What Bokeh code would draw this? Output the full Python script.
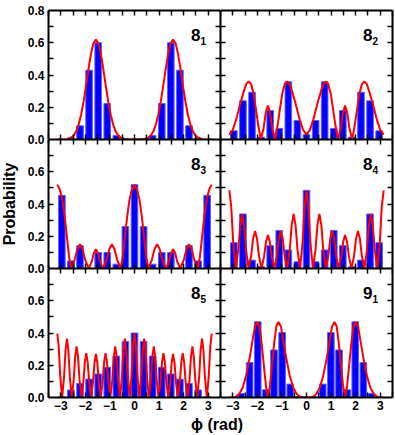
from bokeh.plotting import figure
from bokeh.models import Range1d, FixedTicker, LinearAxis, Label
from bokeh.layouts import column, row
from bokeh.embed import file_html
from bokeh.resources import INLINE

# ---------------- data ----------------
# bin centres (rad)
bins17 = [-2.957, -2.587, -2.217, -1.848, -1.478, -1.109, -0.739, -0.370, 0.0,
          0.370, 0.739, 1.109, 1.478, 1.848, 2.217, 2.587, 2.957]
bins19 = [-2.976, -2.646, -2.315, -1.984, -1.653, -1.323, -0.992, -0.661, -0.331, 0.0,
          0.331, 0.661, 0.992, 1.323, 1.653, 1.984, 2.315, 2.646, 2.976]

bar81 = [0.0, 0.005, 0.085, 0.43, 0.60, 0.223, 0.025, 0.003, 0.0, 0.003, 0.025, 0.223, 0.60, 0.43, 0.085, 0.005, 0.0]
bar82 = [0.054, 0.24, 0.293, 0.015, 0.18, 0.069, 0.358, 0.118, 0.031, 0.118, 0.358, 0.069, 0.18, 0.015, 0.293, 0.24, 0.054]
bar83 = [0.454, 0.047, 0.142, 0.003, 0.099, 0.099, 0.027, 0.26, 0.52, 0.26, 0.027, 0.099, 0.099, 0.003, 0.142, 0.047, 0.454]
bar84 = [0.16, 0.338, 0.052, 0.012, 0.142, 0.236, 0.115, 0.042, 0.485, 0.042, 0.115, 0.236, 0.142, 0.012, 0.052, 0.338, 0.16]
bar85 = [0.004, 0.047, 0.0875, 0.114, 0.146, 0.1875, 0.257, 0.348, 0.40, 0.348, 0.257, 0.1875, 0.146, 0.114, 0.0875, 0.047, 0.004]
bar91 = [0.0, 0.025, 0.217, 0.469, 0.048, 0.295, 0.403, 0.083, 0.005, 0.0, 0.005, 0.083, 0.403, 0.295, 0.048, 0.469, 0.217, 0.025, 0.0]

c81_x = [-3.142, -2.771, -2.571, -2.471, -2.371, -2.271, -2.171, -2.071, -1.971, -1.871, -1.771, -1.671, -1.571,
         -1.471, -1.371, -1.271, -1.171, -1.071, -0.971, -0.871, -0.771, -0.671, -0.571, -0.371, 0.0,
         0.371, 0.571, 0.671, 0.771, 0.871, 0.971, 1.071, 1.171, 1.271, 1.371, 1.471, 1.571,
         1.671, 1.771, 1.871, 1.971, 2.071, 2.171, 2.271, 2.371, 2.471, 2.571, 2.771, 3.142]
c81_y = [0.0, 0.002, 0.013, 0.027, 0.052, 0.094, 0.155, 0.236, 0.334, 0.438, 0.532, 0.597, 0.62,
         0.597, 0.532, 0.438, 0.334, 0.236, 0.155, 0.094, 0.052, 0.027, 0.013, 0.002, 0.0,
         0.002, 0.013, 0.027, 0.052, 0.094, 0.155, 0.236, 0.334, 0.438, 0.532, 0.597, 0.62,
         0.597, 0.532, 0.438, 0.334, 0.236, 0.155, 0.094, 0.052, 0.027, 0.013, 0.002, 0.0]

c82_x = [-3.142, -3.0, -2.85, -2.7, -2.55, -2.45, -2.356, -2.26, -2.16, -2.06, -1.96, -1.86, -1.744, -1.657,
         -1.571, -1.485, -1.398, -1.28, -1.18, -1.08, -0.98, -0.88, -0.785, -0.69, -0.59, -0.44, -0.29, -0.14, 0.0,
         0.14, 0.29, 0.44, 0.59, 0.69, 0.785, 0.88, 0.98, 1.08, 1.18, 1.28, 1.398, 1.485, 1.571, 1.657, 1.744,
         1.86, 1.96, 2.06, 2.16, 2.26, 2.356, 2.45, 2.55, 2.7, 2.85, 3.0, 3.142]
c82_y = [0.03, 0.06, 0.13, 0.22, 0.30, 0.345, 0.36, 0.345, 0.29, 0.19, 0.085, 0.0, 0.072, 0.167,
         0.21, 0.167, 0.072, 0.0, 0.085, 0.19, 0.29, 0.345, 0.36, 0.345, 0.30, 0.22, 0.13, 0.06, 0.03,
         0.06, 0.13, 0.22, 0.30, 0.345, 0.36, 0.345, 0.29, 0.19, 0.085, 0.0, 0.072, 0.167, 0.21, 0.167, 0.072,
         0.0, 0.085, 0.19, 0.29, 0.345, 0.36, 0.345, 0.30, 0.22, 0.13, 0.06, 0.03]

c83_x = [-3.142, -3.04, -2.94, -2.84, -2.74, -2.66, -2.58, -2.436, -2.328, -2.22, -2.112, -2.004, -1.86,
         -1.744, -1.657, -1.571, -1.485, -1.398, -1.28, -1.136, -1.028, -0.92, -0.812, -0.704, -0.56,
         -0.48, -0.40, -0.30, -0.20, -0.10, 0.0,
         0.10, 0.20, 0.30, 0.40, 0.48, 0.56, 0.704, 0.812, 0.92, 1.028, 1.136, 1.28, 1.398, 1.485, 1.571,
         1.657, 1.744, 1.86, 2.004, 2.112, 2.22, 2.328, 2.436, 2.58, 2.66, 2.74, 2.84, 2.94, 3.04, 3.142]
c83_y = [0.52, 0.49, 0.43, 0.32, 0.18, 0.07, 0.0, 0.052, 0.119, 0.15, 0.119, 0.052, 0.0,
         0.041, 0.095, 0.12, 0.095, 0.041, 0.0, 0.052, 0.119, 0.15, 0.119, 0.052, 0.0,
         0.07, 0.18, 0.32, 0.43, 0.49, 0.52,
         0.49, 0.43, 0.32, 0.18, 0.07, 0.0, 0.052, 0.119, 0.15, 0.119, 0.052, 0.0, 0.041, 0.095, 0.12,
         0.095, 0.041, 0.0, 0.052, 0.119, 0.15, 0.119, 0.052, 0.0, 0.07, 0.18, 0.32, 0.43, 0.49, 0.52]

c84_x = [-3.142, -3.063, -2.985, -2.880, -2.775, -2.697, -2.618, -2.539, -2.461, -2.356, -2.251, -2.173,
         -2.094, -2.015, -1.937, -1.833, -1.728, -1.650, -1.571, -1.492, -1.414, -1.309, -1.204, -1.126,
         -1.047, -0.968, -0.890, -0.785, -0.681, -0.603, -0.524, -0.445, -0.367, -0.262, -0.157, -0.079, 0.0,
         0.079, 0.157, 0.262, 0.367, 0.445, 0.524, 0.603, 0.681, 0.785, 0.890, 0.968, 1.047, 1.126, 1.204,
         1.309, 1.414, 1.492, 1.571, 1.650, 1.728, 1.833, 1.937, 2.015, 2.094, 2.173, 2.251, 2.356, 2.461,
         2.539, 2.618, 2.697, 2.775, 2.880, 2.985, 3.063, 3.142]
c84_y = [0.484, 0.384, 0.167, 0.0, 0.117, 0.269, 0.339, 0.269, 0.117, 0.0, 0.080, 0.185,
         0.233, 0.185, 0.080, 0.0, 0.072, 0.165, 0.208, 0.165, 0.072, 0.0, 0.080, 0.185,
         0.233, 0.185, 0.080, 0.0, 0.117, 0.269, 0.339, 0.269, 0.117, 0.0, 0.167, 0.384, 0.484,
         0.384, 0.167, 0.0, 0.117, 0.269, 0.339, 0.269, 0.117, 0.0, 0.080, 0.185, 0.233, 0.185, 0.080,
         0.0, 0.072, 0.165, 0.208, 0.165, 0.072, 0.0, 0.080, 0.185, 0.233, 0.185, 0.080, 0.0, 0.117,
         0.269, 0.339, 0.269, 0.117, 0.0, 0.167, 0.384, 0.484]

c85_x = [-3.142, -3.083, -3.024, -2.945, -2.867, -2.808, -2.749, -2.690, -2.631, -2.553, -2.474, -2.415,
         -2.356, -2.297, -2.238, -2.160, -2.081, -2.022, -1.963, -1.904, -1.845, -1.767, -1.689, -1.630,
         -1.571, -1.512, -1.453, -1.374, -1.296, -1.237, -1.178, -1.119, -1.060, -0.982, -0.903, -0.844,
         -0.785, -0.726, -0.667, -0.589, -0.511, -0.452, -0.393, -0.334, -0.275, -0.196, -0.118, -0.059, 0.0,
         0.059, 0.118, 0.196, 0.275, 0.334, 0.393, 0.452, 0.511, 0.589, 0.667, 0.726, 0.785, 0.844, 0.903,
         0.982, 1.060, 1.119, 1.178, 1.237, 1.296, 1.374, 1.453, 1.512, 1.571, 1.630, 1.689, 1.767, 1.845,
         1.904, 1.963, 2.022, 2.081, 2.160, 2.238, 2.297, 2.356, 2.415, 2.474, 2.553, 2.631, 2.690, 2.749,
         2.808, 2.867, 2.945, 3.024, 3.083, 3.142]
c85_y = [0.396, 0.314, 0.137, 0.0, 0.126, 0.290, 0.365, 0.290, 0.126, 0.0, 0.109, 0.252,
         0.317, 0.252, 0.109, 0.0, 0.095, 0.218, 0.275, 0.218, 0.095, 0.0, 0.093, 0.215,
         0.271, 0.215, 0.093, 0.0, 0.095, 0.218, 0.275, 0.218, 0.095, 0.0, 0.109, 0.252,
         0.317, 0.252, 0.109, 0.0, 0.126, 0.290, 0.365, 0.290, 0.126, 0.0, 0.138, 0.318, 0.400,
         0.318, 0.138, 0.0, 0.126, 0.290, 0.365, 0.290, 0.126, 0.0, 0.109, 0.252, 0.317, 0.252, 0.109,
         0.0, 0.095, 0.218, 0.275, 0.218, 0.095, 0.0, 0.093, 0.215, 0.271, 0.215, 0.093, 0.0, 0.095,
         0.218, 0.275, 0.218, 0.095, 0.0, 0.109, 0.252, 0.317, 0.252, 0.109, 0.0, 0.126, 0.290, 0.365,
         0.290, 0.126, 0.0, 0.137, 0.314, 0.396]

c91_x = [-3.142, -2.9, -2.75, -2.6, -2.45, -2.32, -2.2, -2.1, -2.0, -1.91, -1.82, -1.73, -1.65, -1.571,
         -1.49, -1.41, -1.32, -1.23, -1.14, -1.04, -0.94, -0.82, -0.69, -0.54, -0.39, -0.24, 0.0,
         0.24, 0.39, 0.54, 0.69, 0.82, 0.94, 1.04, 1.14, 1.23, 1.32, 1.41, 1.49, 1.571,
         1.65, 1.73, 1.82, 1.91, 2.0, 2.1, 2.2, 2.32, 2.45, 2.6, 2.75, 2.9, 3.142]
c91_y = [0.0, 0.003, 0.02, 0.06, 0.14, 0.24, 0.35, 0.44, 0.469, 0.44, 0.33, 0.19, 0.07, 0.0,
         0.07, 0.19, 0.33, 0.44, 0.469, 0.44, 0.35, 0.24, 0.14, 0.06, 0.02, 0.003, 0.0,
         0.003, 0.02, 0.06, 0.14, 0.24, 0.35, 0.44, 0.469, 0.44, 0.33, 0.19, 0.07, 0.0,
         0.07, 0.19, 0.33, 0.44, 0.469, 0.44, 0.35, 0.24, 0.14, 0.06, 0.02, 0.003, 0.0]

panel_main = ["8", "8", "8", "8", "8", "9"]
panel_sub = ["1", "2", "3", "4", "5", "1"]

# tick values and labels
x_ticks = [-3, -2, -1, 0, 1, 2, 3]
x_minor = [-3.5, -2.5, -1.5, -0.5, 0.5, 1.5, 2.5, 3.5]
x_all = [-3.5, -3, -2.5, -2, -1.5, -1, -0.5, 0, 0.5, 1, 1.5, 2, 2.5, 3, 3.5]
y_all = [0.1, 0.2, 0.3, 0.4, 0.5, 0.6, 0.7]
# y tick labels of the three stacked rows (bottom row, middle row, top row)
ylab_pos = [0.0, 0.2, 0.4, 0.6, 0.8, 1.0, 1.2, 1.4, 1.6, 1.8, 2.0, 2.2, 2.4]
ylab_txt = ["0.0", "0.2", "0.4", "0.6", "0.0", "0.2", "0.4", "0.6", "0.0", "0.2", "0.4", "0.6", "0.8"]

# ---------------- layout ----------------
FONT = "Liberation Sans"
FW, FH = 172, 129
LABW = 46          # width of the y-label strip
EDGE, TOP, BOT = 2, 10, 18


def style_axis(ax, labelled, major, minor):
    ax.axis_line_width = 2
    ax.axis_line_color = "black"
    ax.major_tick_line_width = 1.5
    ax.minor_tick_line_width = 1.5
    ax.major_tick_in = 5
    ax.major_tick_out = 0
    ax.minor_tick_in = 5
    ax.minor_tick_out = 0
    if labelled:
        ax.ticker = FixedTicker(ticks=major, minor_ticks=minor)
        ax.major_label_text_font = FONT
        ax.major_label_text_font_style = "bold"
        ax.major_label_text_font_size = "12px"
        ax.major_label_text_color = "black"
        ax.major_label_standoff = 3
    else:
        ax.ticker = FixedTicker(ticks=[], minor_ticks=major + minor)
        ax.major_label_standoff = 0


def panel(idx, bx, by, cx, cy):
    r, c = divmod(idx, 2)
    left = c == 0
    w = FW + EDGE
    h = FH + (TOP if r == 0 else 0) + (BOT if r == 2 else 0)
    p = figure(width=w, height=h, x_range=Range1d(-3.5, 3.5), y_range=Range1d(0, 0.8),
               output_backend="svg", toolbar_location=None,
               x_axis_location=None, y_axis_location=None,
               min_border_left=EDGE if left else 0, min_border_right=0 if left else EDGE,
               min_border_top=TOP if r == 0 else 0, min_border_bottom=BOT if r == 2 else 0)
    p.outline_line_color = None
    p.background_fill_color = "white"
    p.border_fill_color = "white"
    p.xgrid.grid_line_color = None
    p.ygrid.grid_line_color = None

    p.vbar(x=bx, top=by, width=0.27, bottom=0, fill_color="#0000ff",
           line_color="#6060ff", line_width=1)
    p.line(cx, cy, line_color="#ff0000", line_width=2)

    ax_l = LinearAxis()
    style_axis(ax_l, False, y_all, [])
    p.add_layout(ax_l, "left")
    ax_r = LinearAxis()
    style_axis(ax_r, False, y_all, [])
    p.add_layout(ax_r, "right")
    ax_b = LinearAxis()
    style_axis(ax_b, r == 2, x_ticks if r == 2 else x_all, x_minor if r == 2 else [])
    p.add_layout(ax_b, "below")
    ax_t = LinearAxis()
    style_axis(ax_t, False, x_all, [])
    p.add_layout(ax_t, "above")

    p.add_layout(Label(x=2.3, y=0.61, text=panel_main[idx], text_font=FONT,
                       text_font_style="bold", text_font_size="17px", text_color="black"))
    p.add_layout(Label(x=2.69, y=0.585, text=panel_sub[idx], text_font=FONT,
                       text_font_style="bold", text_font_size="10px", text_color="black"))
    return p


p1 = panel(0, bins17, bar81, c81_x, c81_y)
p2 = panel(1, bins17, bar82, c82_x, c82_y)
p3 = panel(2, bins17, bar83, c83_x, c83_y)
p4 = panel(3, bins17, bar84, c84_x, c84_y)
p5 = panel(4, bins17, bar85, c85_x, c85_y)
p6 = panel(5, bins19, bar91, c91_x, c91_y)

# y tick labels + "Probability" strip, aligned with the three stacked rows
ylab = figure(width=LABW, height=TOP + 3 * FH + BOT, x_range=Range1d(0, 1), y_range=Range1d(0, 2.4),
              output_backend="svg", toolbar_location=None, x_axis_location=None, y_axis_location=None,
              min_border_left=LABW - 1, min_border_right=0, min_border_top=TOP, min_border_bottom=BOT)
ylab.outline_line_color = None
ylab.xgrid.grid_line_color = None
ylab.ygrid.grid_line_color = None
yax = LinearAxis(ticker=FixedTicker(ticks=ylab_pos, minor_ticks=[]),
                 major_label_overrides=dict(zip(ylab_pos, ylab_txt)))
yax.axis_line_color = None
yax.major_tick_line_color = None
yax.minor_tick_line_color = None
yax.major_tick_in = 0
yax.major_tick_out = 0
yax.major_label_standoff = 2
yax.major_label_text_font = FONT
yax.major_label_text_font_style = "bold"
yax.major_label_text_font_size = "12px"
yax.major_label_text_color = "black"
yax.axis_label = "Probability"
yax.axis_label_standoff = 7
yax.axis_label_text_font = FONT
yax.axis_label_text_font_style = "bold"
yax.axis_label_text_font_size = "16px"
yax.axis_label_text_color = "black"
ylab.add_layout(yax, "left")

# x axis title strip, centred under the two columns
TOTAL_W = LABW + 2 * (FW + EDGE)
XLH = 19
xl = figure(width=TOTAL_W, height=XLH, x_range=Range1d(-3.5, 10.5), y_range=Range1d(0, 1),
            output_backend="svg", toolbar_location=None, x_axis_location=None, y_axis_location=None,
            min_border_left=41, min_border_right=EDGE, min_border_top=0, min_border_bottom=XLH - 1)
xl.outline_line_color = None
xl.xgrid.grid_line_color = None
xl.ygrid.grid_line_color = None
xax = LinearAxis(ticker=FixedTicker(ticks=[], minor_ticks=[]))
xax.axis_line_color = None
xax.major_tick_line_color = None
xax.minor_tick_line_color = None
xax.major_tick_in = 0
xax.major_tick_out = 0
xax.major_label_standoff = 0
xax.axis_label = "\u03d5 (rad)"
xax.axis_label_standoff = 0
xax.axis_label_text_font = FONT
xax.axis_label_text_font_style = "bold"
xax.axis_label_text_font_size = "16px"
xax.axis_label_text_color = "black"
xl.add_layout(xax, "below")

grid = column(row(p1, p2), row(p3, p4), row(p5, p6))
layout = column(row(ylab, grid), xl)

open("out.html", "w").write(file_html(layout, INLINE))
